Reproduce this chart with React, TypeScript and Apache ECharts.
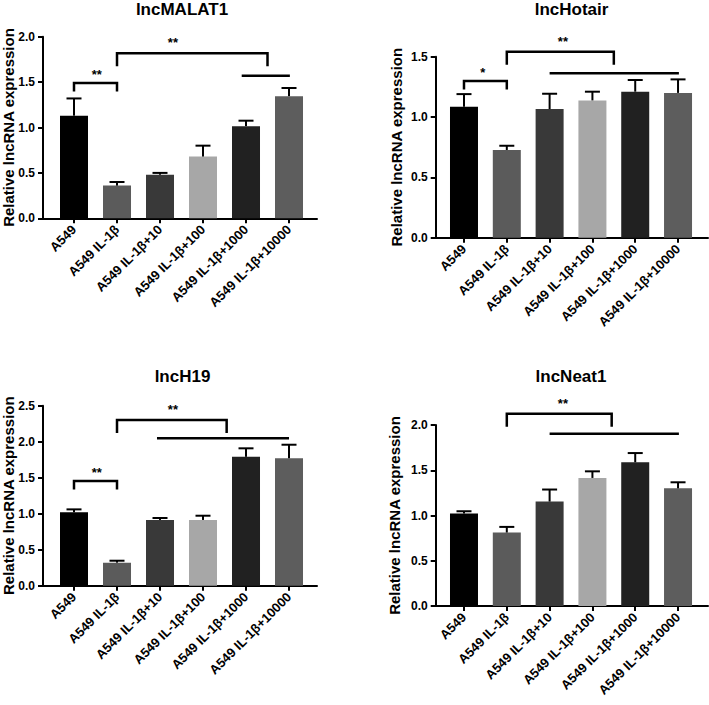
import React, { useEffect, useRef } from "react";
import * as echarts from "echarts";

const categories = [
  "A549",
  "A549 IL-1β",
  "A549 IL-1β+10",
  "A549 IL-1β+100",
  "A549 IL-1β+1000",
  "A549 IL-1β+10000",
];
const barColors = ["#000000", "#5b5b5b", "#393939", "#a7a7a7", "#212121", "#5d5d5d"];

const titles = ["lncMALAT1", "lncHotair", "lncH19", "lncNeat1"];

const malatMean = [1.13, 0.36, 0.48, 0.68, 1.015, 1.345];
const malatSem = [0.19, 0.04, 0.02, 0.12, 0.06, 0.09];
const hotairMean = [1.085, 0.727, 1.066, 1.138, 1.21, 1.2];
const hotairSem = [0.105, 0.035, 0.127, 0.072, 0.097, 0.112];
const h19Mean = [1.02, 0.32, 0.913, 0.913, 1.79, 1.77];
const h19Sem = [0.04, 0.027, 0.027, 0.059, 0.118, 0.188];
const neat1Mean = [1.022, 0.812, 1.154, 1.415, 1.588, 1.3];
const neat1Sem = [0.025, 0.062, 0.133, 0.073, 0.102, 0.067];

const yMax = [2.0, 1.5, 2.5, 2.0];

// significance annotations: from/to in category units, y in data units
const malatBrackets = [
  { from: 0, to: 1, y: 1.49, legs: true, label: "**", labelX: 0.53, big: false },
  { from: 1, to: 4.5, y: 1.817, legs: true, label: "**", labelX: 2.3, big: true },
  { from: 3.9, to: 5.02, y: 1.57, legs: false, label: "", labelX: 0, big: false },
];
const hotairBrackets = [
  { from: 0, to: 1, y: 1.298, legs: true, label: "*", labelX: 0.44, big: false },
  { from: 1, to: 3.5, y: 1.541, legs: true, label: "**", labelX: 2.31, big: true },
  { from: 2, to: 5.02, y: 1.362, legs: false, label: "", labelX: 0, big: false },
];
const h19Brackets = [
  { from: 0, to: 1, y: 1.454, legs: true, label: "**", labelX: 0.53, big: false },
  { from: 1, to: 3.55, y: 2.301, legs: true, label: "**", labelX: 2.3, big: true },
  { from: 1.93, to: 5.0, y: 2.047, legs: false, label: "", labelX: 0, big: false },
];
const neat1Brackets = [
  { from: 1, to: 3.45, y: 2.125, legs: true, label: "**", labelX: 2.31, big: true },
  { from: 2, to: 5.02, y: 1.904, legs: false, label: "", labelX: 0, big: false },
];

const means = [malatMean, hotairMean, h19Mean, neat1Mean];
const sems = [malatSem, hotairSem, h19Sem, neat1Sem];
const brackets = [malatBrackets, hotairBrackets, h19Brackets, neat1Brackets];

const FONT = '"Liberation Sans", Arial, Helvetica, sans-serif';

// layout (pixels)
const grids = [
  { left: 43, top: 36.7, width: 274, height: 181.6, xmin: -0.721, xmax: 5.651, nameGap: 27, tx: 182, ty: 1 },
  { left: 435.7, top: 56.7, width: 272.3, height: 181, xmin: -0.661, xmax: 5.7, nameGap: 32, tx: 571.5, ty: 1 },
  { left: 43, top: 405.7, width: 274, height: 180, xmin: -0.721, xmax: 5.651, nameGap: 27, tx: 182.5, ty: 368 },
  { left: 435.7, top: 425, width: 272.3, height: 181, xmin: -0.661, xmax: 5.7, nameGap: 34, tx: 571, ty: 368 },
];

export default function App() {
  const ref = useRef<HTMLDivElement>(null);
  useEffect(() => {
    if (!ref.current) return;
    const chart = echarts.init(ref.current, null, { renderer: "svg" });
    const idx = [0, 1, 2, 3, 4, 5];
    const series: any[] = [];
    grids.forEach((g, p) => {
      series.push({
        type: "bar",
        xAxisIndex: p,
        yAxisIndex: p,
        barWidth: 28,
        data: means[p].map((v, i) => ({ value: [i, v], itemStyle: { color: barColors[i] } })),
      });
      series.push({
        type: "custom",
        xAxisIndex: p,
        yAxisIndex: p,
        clip: false,
        z: 3,
        data: means[p].map((v, i) => [i, v, sems[p][i]]),
        encode: { x: 0, y: 1 },
        renderItem: (params: any, api: any) => {
          const x = api.value(0);
          const y = api.value(1);
          const e = api.value(2);
          const p0 = api.coord([x, y]);
          const p1 = api.coord([x, y + e]);
          const st = { stroke: "#000", lineWidth: 2 };
          return {
            type: "group",
            children: [
              { type: "line", shape: { x1: p0[0], y1: p0[1], x2: p1[0], y2: p1[1] }, style: st },
              { type: "line", shape: { x1: p1[0] - 7.5, y1: p1[1], x2: p1[0] + 7.5, y2: p1[1] }, style: st },
            ],
          };
        },
      });
      const br = brackets[p];
      series.push({
        type: "custom",
        xAxisIndex: p,
        yAxisIndex: p,
        clip: false,
        z: 4,
        data: br.map((b) => [b.from, b.y]),
        encode: { x: 0, y: 1 },
        renderItem: (params: any, api: any) => {
          const b = br[params.dataIndex];
          const a = api.coord([b.from, b.y]);
          const c = api.coord([b.to, b.y]);
          const leg = b.big ? 13 : 8.5;
          const pts = b.legs
            ? [
                [a[0], a[1] + leg],
                [a[0], a[1]],
                [c[0], c[1]],
                [c[0], c[1] + leg],
              ]
            : [
                [a[0], a[1]],
                [c[0], c[1]],
              ];
          const children: any[] = [
            { type: "polyline", shape: { points: pts }, style: { stroke: "#000", lineWidth: 2.5, fill: "none" } },
          ];
          if (b.label) {
            const t = api.coord([b.labelX, b.y]);
            children.push({
              type: "text",
              x: t[0],
              y: t[1] - (b.big ? 4 : 2),
              style: {
                text: b.label,
                fill: "#000",
                font: `bold 13px ${FONT}`,
                align: "center",
                verticalAlign: "bottom",
              },
            });
          }
          return { type: "group", children };
        },
      });
    });

    const option: any = {
      animation: false,
      backgroundColor: "#ffffff",
      title: grids.map((g, p) => ({
        text: titles[p],
        left: g.tx,
        top: g.ty,
        textAlign: "center",
        padding: 0,
        textStyle: { fontFamily: FONT, fontWeight: "bold", fontSize: 17, color: "#000" },
      })),
      grid: grids.map((g) => ({
        left: g.left,
        top: g.top,
        width: g.width,
        height: g.height,
        containLabel: false,
        outerBoundsMode: "none",
      })),
      xAxis: grids.map((g, p) => ({
        type: "value",
        gridIndex: p,
        min: g.xmin,
        max: g.xmax,
        splitLine: { show: false },
        axisLine: { show: true, onZero: false, lineStyle: { color: "#000", width: 2 } },
        axisTick: {
          show: true,
          customValues: idx,
          length: 5,
          lineStyle: { color: "#000", width: 2 },
        },
        axisLabel: {
          customValues: idx,
          rotate: 45,
          margin: 9,
          formatter: (v: number) => categories[Math.round(v)],
          fontFamily: FONT,
          fontWeight: "bold",
          fontSize: 13,
          color: "#000",
        },
      })),
      yAxis: grids.map((g, p) => ({
        type: "value",
        gridIndex: p,
        min: 0,
        max: yMax[p],
        interval: 0.5,
        name: "Relative lncRNA expression",
        nameLocation: "middle",
        nameGap: g.nameGap,
        nameMoveOverlap: false,
        nameTextStyle: { fontFamily: FONT, fontWeight: "bold", fontSize: 15, lineHeight: 15, color: "#000" },
        splitLine: { show: false },
        axisLine: { show: true, onZero: false, lineStyle: { color: "#000", width: 2 } },
        axisTick: { show: true, length: 5, lineStyle: { color: "#000", width: 2 } },
        axisLabel: {
          margin: 8,
          formatter: (v: number) => v.toFixed(1),
          fontFamily: FONT,
          fontWeight: "bold",
          fontSize: 12,
          color: "#000",
        },
      })),
      series,
    };
    chart.setOption(option);
    return () => chart.dispose();
  }, []);
  return (
    <div
      ref={ref}
      style={{ position: "absolute", left: 0, top: 0, width: 709, height: 705, background: "#fff" }}
    />
  );
}
